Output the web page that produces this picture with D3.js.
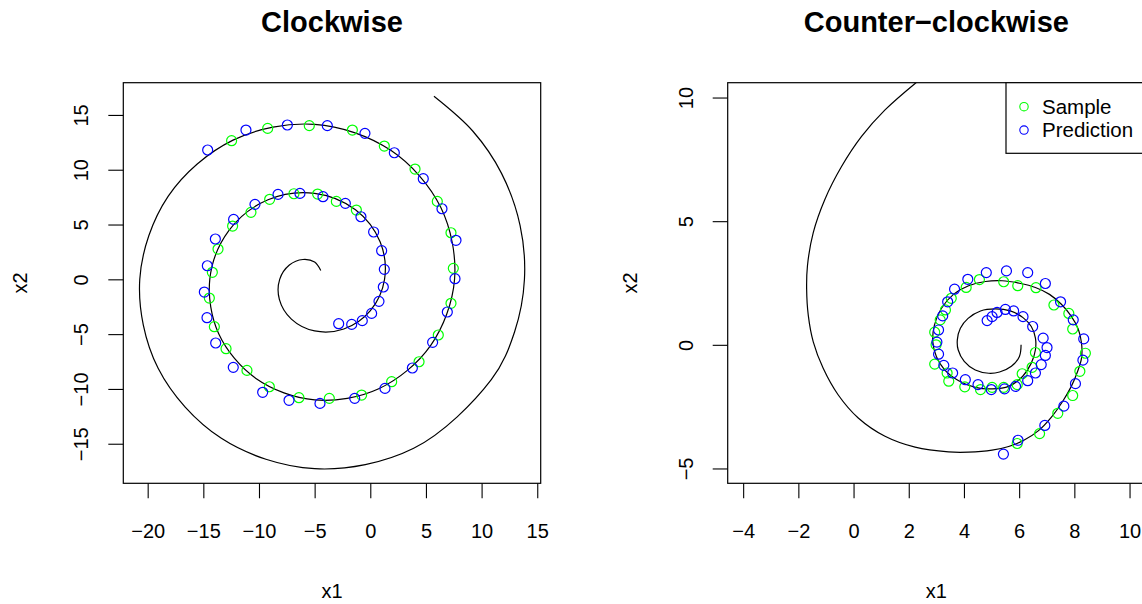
<!DOCTYPE html>
<html>
<head>
<meta charset="utf-8">
<title>Clockwise / Counter-clockwise</title>
<script src="https://cdn.jsdelivr.net/npm/d3@7"></script>
<style>
  body { margin: 0; background: #fff; }
  svg { display: block; font-family: "Liberation Sans", Arial, Helvetica, sans-serif; }
</style>
</head>
<body>
<script>
// values (data units)
var cwLine = [[-4.45,0.80],[-5.00,1.57],[-6.05,1.81],[-7.27,1.31],[-8.14,0],[-8.17,-1.83],[-7.09,-3.63],
  [-5.00,-4.71],[-2.38,-4.53],[-0.01,-2.88],[1.28,0],[0.89,3.40],[-1.33,6.35],[-5.00,7.85],[-9.19,7.26],
  [-12.71,4.45],[-14.42,0],[-13.62,-4.97],[-10.24,-9.07],[-5.00,-11.00],[0.76,-9.98],[5.43,-6.02],[7.57,0],
  [6.34,6.55],[1.81,11.79],[-5.00,14.14],[-12.33,12.70],[-18.15,7.59],[-20.71,0],[-19.06,-8.12],
  [-13.38,-14.51],[-5.00,-17.28],[3.90,-15.42],[10.87,-9.16],[12.96,-4.81],[13.85,0],[13.46,4.91],
  [11.78,9.69],[9.22,13.51],[5.72,16.70]];

var cwSample = [[-12.46,12.65],[-9.22,13.77],[-5.48,14.02],[-1.61,13.62],[1.26,12.16],[4.02,10.06],[6.02,7.11],
  [7.25,4.25],[7.46,1.00],[7.25,-2.19],[6.11,-5.08],[4.38,-7.52],[1.92,-9.34],[-0.78,-10.56],[-3.68,-10.86],
  [-6.41,-10.80],[-9.07,-9.80],[-11.08,-8.31],[-12.96,-6.33],[-14.01,-4.32],[-14.46,-1.71],[-14.19,0.64],
  [-13.68,2.76],[-12.37,4.86],[-10.72,6.11],[-9.04,7.30],[-6.86,7.81],[-4.73,7.78],[-3.05,7.11],[-1.25,6.32]];

var cwPred = [[-14.61,11.80],[-11.17,13.62],[-7.45,14.08],[-3.86,14.02],[-0.48,13.32],[2.16,11.55],[4.76,9.18],
  [6.44,6.44],[7.70,3.56],[7.61,0.06],[6.92,-2.98],[5.60,-5.75],[3.78,-8.09],[1.32,-9.95],[-1.40,-10.86],
  [-4.52,-11.32],[-7.30,-11.04],[-9.67,-10.31],[-12.31,-8.03],[-13.89,-5.81],[-14.67,-3.50],[-14.91,-1.16],
  [-14.64,1.24],[-13.92,3.68],[-12.28,5.47],[-10.36,6.84],[-8.29,7.75],[-6.32,7.84],[-4.25,7.54],[-2.24,6.93],
  [-0.84,5.71],[0.30,4.32],[1.02,2.61],[1.26,0.91],[1.17,-0.70],[0.78,-2.01],[0.12,-3.11],[-0.72,-3.77],
  [-1.67,-4.11],[-2.84,-4.05]];

var ccwLine = [[6.07,0.00],[6.01,-0.47],[5.72,-0.87],[5.29,-1.10],[4.90,-1.15],[4.41,-1.02],[4.01,-0.67],
  [3.79,-0.20],[3.76,0.20],[3.87,0.67],[4.15,1.07],[4.60,1.37],[5.14,1.45],[5.68,1.37],[6.14,1.10],[6.44,0.74],
  [6.59,0.27],[6.59,-0.20],[6.44,-0.74],[6.13,-1.27],[5.62,-1.68],[5.02,-1.78],[4.41,-1.72],[3.81,-1.45],
  [3.30,-1.01],[3.00,-0.47],[2.87,0.13],[2.93,0.80],[3.18,1.47],[3.63,2.05],[4.17,2.39],[4.78,2.56],[5.38,2.59],
  [6.01,2.49],[6.59,2.32],[7.10,2.04],[7.53,1.64],[7.88,1.17],[8.14,0.64],[8.26,0.07],[8.26,-0.54],[8.11,-1.10],
  [7.89,-1.68],[7.58,-2.28],[7.17,-2.92],[6.69,-3.48],[6.17,-3.86],[5.62,-4.11],[5.02,-4.26],[4.16,-4.34],
  [3.44,-4.33],[2.23,-4.14],[1.14,-3.70],[0.17,-2.96],[-0.56,-2.02],[-1.10,-0.95],[-1.46,0.12],[-1.64,1.19],
  [-1.70,2.27],[-1.67,3.20],[-1.46,4.54],[-1.04,5.88],[-0.43,7.22],[0.29,8.43],[1.14,9.50],[2.23,10.57],[3.30,11.50]];

var ccwSample = [[4.56,2.64],[5.44,2.55],[5.95,2.39],[6.61,2.31],[7.26,1.61],[7.80,1.27],[7.94,0.64],[8.40,-0.34],
  [8.20,-1.07],[7.94,-2.05],[7.40,-2.77],[6.74,-3.59],[5.93,-3.99],[4.08,2.32],[3.54,1.88],[3.33,1.41],[3.14,1.01],
  [2.94,0.51],[2.99,0.00],[2.94,-0.78],[3.39,-1.14],[3.45,-1.47],[4.03,-1.70],[4.60,-1.81],[5.02,-1.72],
  [5.44,-1.72],[5.93,-1.61],[6.11,-1.17],[6.47,-0.91],[6.59,-0.31]];

var ccwPred = [[4.81,2.92],[5.54,2.99],[6.31,2.92],[6.95,2.48],[7.50,1.74],[7.96,1.01],[8.34,0.24],[8.31,-0.62],
  [8.04,-1.57],[7.62,-2.48],[6.93,-3.26],[5.96,-3.86],[5.43,-4.42],[4.14,2.65],[3.66,2.25],[3.41,1.74],[3.23,1.17],
  [3.08,0.60],[3.02,0.11],[3.08,-0.38],[3.27,-0.83],[3.59,-1.14],[4.05,-1.41],[4.51,-1.61],[4.99,-1.81],
  [5.47,-1.78],[5.87,-1.68],[6.31,-1.45],[6.59,-1.14],[6.80,-0.80],[6.95,-0.43],[7.01,-0.11],[6.87,0.27],
  [6.49,0.74],[6.14,1.14],[5.80,1.37],[5.50,1.43],[5.20,1.31],[5.02,1.14],[4.84,0.98]];

var cwXTicks = [-20, -15, -10, -5, 0, 5, 10, 15];
var cwYTicks = [-15, -10, -5, 0, 5, 10, 15];
var ccwXTicks = [-4, -2, 0, 2, 4, 6, 8, 10];
var ccwYTicks = [-5, 0, 5, 10];

var titles = ["Clockwise", "Counter\u2212clockwise"];
var legendLabels = ["Sample", "Prediction"];
var legendColors = ["#00ff00", "#0000ff"];

var w = 1142, h = 604;
var fmt = function(v) { return v < 0 ? "\u2212" + Math.abs(v) : "" + v; };

var svg = d3.select("body").append("svg")
  .attr("width", w)
  .attr("height", h);

svg.append("rect").attr("width", w).attr("height", h).attr("fill", "white");

function drawPanel(p) {
  var x = d3.scaleLinear().domain(p.xlim).range([p.left, p.right]);
  var y = d3.scaleLinear().domain(p.ylim).range([p.bottom, p.top]);
  var g = svg.append("g");

  g.append("clipPath").attr("id", p.id)
    .append("rect")
    .attr("x", p.left).attr("y", p.top)
    .attr("width", p.right - p.left).attr("height", p.bottom - p.top);

  var line = d3.line()
    .x(function(d) { return x(d[0]); })
    .y(function(d) { return y(d[1]); })
    .curve(d3.curveCatmullRom.alpha(0.5));

  g.append("path")
    .datum(p.line)
    .attr("clip-path", "url(#" + p.id + ")")
    .attr("d", line)
    .attr("fill", "none")
    .attr("stroke", "black")
    .attr("stroke-width", 1.2);

  [p.sample, p.pred].forEach(function(pts, i) {
    g.append("g").selectAll("circle")
      .data(pts)
      .enter()
      .append("circle")
        .attr("cx", function(d) { return x(d[0]); })
        .attr("cy", function(d) { return y(d[1]); })
        .attr("r", 5)
        .attr("fill", "none")
        .attr("stroke", legendColors[i])
        .attr("stroke-width", 1.2);
  });

  var xa = g.append("g")
    .attr("transform", "translate(0," + p.bottom + ")")
    .call(d3.axisBottom(x).tickValues(p.xticks).tickSize(15).tickFormat(fmt));
  xa.select(".domain").remove();
  xa.attr("font-size", 20).attr("font-family", null);
  xa.selectAll("line").attr("stroke-width", 1.1);
  xa.selectAll("text").attr("y", 55).attr("dy", 0).attr("fill", "black");

  var ya = g.append("g")
    .attr("transform", "translate(" + p.left + ",0)")
    .call(d3.axisLeft(y).tickValues(p.yticks).tickSize(15).tickFormat(fmt));
  ya.select(".domain").remove();
  ya.attr("font-size", 20).attr("font-family", null);
  ya.selectAll("line").attr("stroke-width", 1.1);
  ya.selectAll("text")
    .attr("transform", "rotate(-90)")
    .attr("x", 0).attr("y", -35).attr("dy", 0)
    .attr("text-anchor", "middle")
    .attr("fill", "black");

  g.append("rect")
    .attr("x", p.left).attr("y", p.top)
    .attr("width", p.right - p.left).attr("height", p.bottom - p.top)
    .attr("fill", "none")
    .attr("stroke", "black")
    .attr("stroke-width", 1.2);

  g.append("text")
    .attr("x", (p.left + p.right) / 2).attr("y", 32)
    .attr("text-anchor", "middle")
    .attr("font-size", 29).attr("font-weight", "bold")
    .text(p.title);

  g.append("text")
    .attr("x", (p.left + p.right) / 2).attr("y", 598)
    .attr("text-anchor", "middle")
    .attr("font-size", 20)
    .text("x1");

  g.append("text")
    .attr("transform", "translate(" + p.ylabX + "," + (p.top + p.bottom) / 2 + ") rotate(-90)")
    .attr("text-anchor", "middle")
    .attr("font-size", 20)
    .text("x2");

  return { x: x, y: y, g: g };
}

drawPanel({
  id: "clipL", left: 123.3, right: 540.7, top: 82.7, bottom: 483.3,
  xlim: [-22.19, 15.31], ylim: [-18.61, 17.94],
  line: cwLine, sample: cwSample, pred: cwPred,
  xticks: cwXTicks, yticks: cwYTicks, title: titles[0], ylabX: 27
});

var right = drawPanel({
  id: "clipR", left: 727.7, right: 1145, top: 82.7, bottom: 483.3,
  xlim: [-4.56, 10.56], ylim: [-5.6, 10.6],
  line: ccwLine, sample: ccwSample, pred: ccwPred,
  xticks: ccwXTicks, yticks: ccwYTicks, title: titles[1], ylabX: 637
});

// legend, top right of the second panel
var leg = right.g.append("g");
leg.append("rect")
  .attr("x", 1006).attr("y", 82.7)
  .attr("width", 160).attr("height", 70.6)
  .attr("fill", "white")
  .attr("stroke", "black")
  .attr("stroke-width", 1.2);

legendLabels.forEach(function(lab, i) {
  var cy = 106.7 + i * 23.4;
  leg.append("circle")
    .attr("cx", 1024).attr("cy", cy).attr("r", 4.2)
    .attr("fill", "none")
    .attr("stroke", legendColors[i])
    .attr("stroke-width", 1.1);
  leg.append("text")
    .attr("x", 1042).attr("y", cy + 7.2)
    .attr("font-size", 20.5)
    .text(lab);
});
</script>
</body>
</html>
